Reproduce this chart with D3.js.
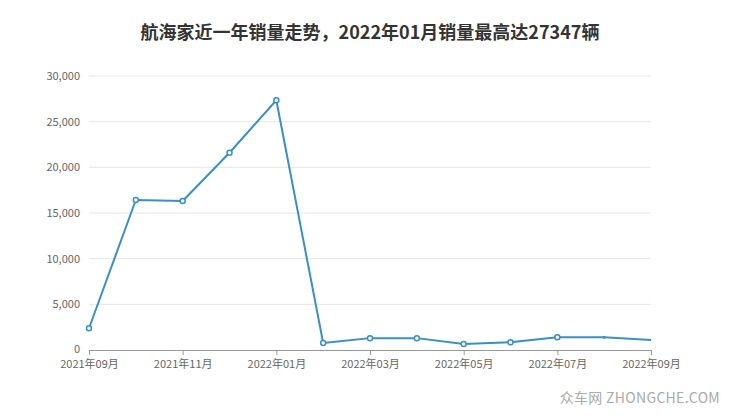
<!DOCTYPE html>
<html><head><meta charset="utf-8">
<script src="https://cdn.jsdelivr.net/npm/d3@7/dist/d3.min.js"></script>
<style>body{margin:0;background:#fff;} svg{display:block;}</style>
</head><body>
<svg id="c" width="740" height="417"></svg>
<script>
const months = ["2021-09","2021-10","2021-11","2021-12","2022-01","2022-02","2022-03","2022-04","2022-05","2022-06","2022-07","2022-08","2022-09"];
const sales = [2380,16420,16310,21600,27347,770,1300,1300,660,840,1400,1400,1100];
const yTicks = [0,5000,10000,15000,20000,25000,30000];
const xTickLabels = ["2021年09月","2021年11月","2022年01月","2022年03月","2022年05月","2022年07月","2022年09月"];
const title = "航海家近一年销量走势，2022年01月销量最高达27347辆";

const svg = d3.select("#c");
const font = "'Noto Sans CJK SC','Noto Sans',sans-serif";
const m = {l:89, r:651, t:76, b:350};
const x = d3.scalePoint().domain(months).range([m.l, m.r]);
const y = d3.scaleLinear().domain([0,30000]).range([m.b, m.t]);

svg.append("text").attr("x",370).attr("y",39).attr("text-anchor","middle")
  .attr("font-family",font).attr("font-weight","bold").attr("font-size",18).attr("fill","#333").text(title);

// grid
svg.append("g").selectAll("line").data(yTicks.filter(d=>d>0)).join("line")
  .attr("x1",m.l).attr("x2",m.r).attr("y1",d=>y(d)).attr("y2",d=>y(d))
  .attr("stroke","#e6e6e6").attr("stroke-width",1);

// y axis labels
const yAxis = d3.axisLeft(y).tickValues(yTicks).tickSize(0).tickPadding(9).tickFormat(d3.format(","));
const gy = svg.append("g").attr("transform",`translate(${m.l},0)`).call(yAxis);
gy.select(".domain").remove();
gy.selectAll("text").attr("font-family",font).attr("font-size",11).attr("fill","#666");
gy.selectAll(".tick").filter(d=>d===0).select("text").attr("dy","0.2em");

// x axis
const labelMonths = months.filter((d,i)=>i%2===0);
const xAxis = d3.axisBottom(x).tickValues(labelMonths).tickSize(5).tickPadding(5)
  .tickFormat((d,i)=>xTickLabels[i]);
const gx = svg.append("g").attr("transform",`translate(0,${m.b})`).call(xAxis);
gx.select(".domain").attr("stroke","#999").attr("d",`M${m.l},0.5H${m.r}`);
gx.selectAll(".tick line").attr("stroke","#999");
gx.selectAll("text").attr("font-family",font).attr("font-size",11).attr("fill","#666");

// line
const color = "#3a8fc6";
const line = d3.line().x((d,i)=>x(months[i])).y(d=>y(d));
svg.append("path").datum(sales).attr("d",line).attr("fill","none")
  .attr("stroke",color).attr("stroke-width",2).attr("stroke-linejoin","round");

svg.append("g").selectAll("circle").data(sales.slice(0,11)).join("circle")
  .attr("cx",(d,i)=>x(months[i])).attr("cy",d=>y(d)).attr("r",2.5)
  .attr("fill","#fff").attr("stroke",color).attr("stroke-width",1.5);
svg.append("circle").attr("cx",x(months[11])).attr("cy",y(sales[11])).attr("r",1.5).attr("fill",color);

// watermark
svg.append("text").attr("x",720).attr("y",403).attr("text-anchor","end")
  .attr("font-family",font).attr("font-size",14).attr("letter-spacing",0.3).attr("fill","#aaa").text("众车网 ZHONGCHE.COM");
</script>
</body></html>
